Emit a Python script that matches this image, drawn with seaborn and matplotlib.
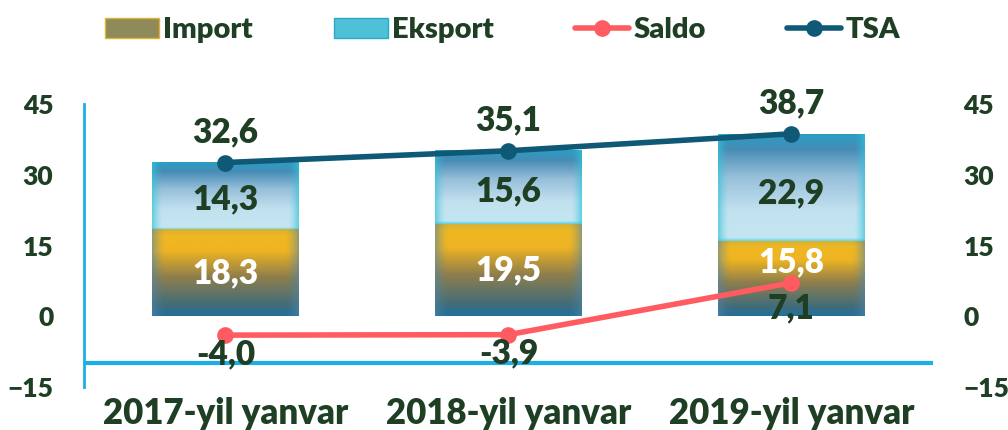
import numpy as np
import pandas as pd
import matplotlib
matplotlib.use("Agg")
import matplotlib.pyplot as plt
from matplotlib.colors import to_rgb
from matplotlib.patches import Patch
from matplotlib.lines import Line2D
import seaborn as sns

# data
periods = ["2017-yil yanvar", "2018-yil yanvar", "2019-yil yanvar"]
import_vals = [18.3, 19.5, 15.8]
export_vals = [14.3, 15.6, 22.9]
saldo_vals = [-4.0, -3.9, 7.1]
tsa_vals = [32.6, 35.1, 38.7]
y_ticks = [-15, 0, 15, 30, 45]

TEXT = "#1F3F25"
AXIS_BLUE = "#1AAFE6"
SALDO_C = "#FF5B60"
TSA_C = "#0F5876"
WEIGHT = "heavy"

sns.set_theme(style="white")
plt.rcParams["font.family"] = ["Lato", "DejaVu Sans"]
plt.rcParams["font.weight"] = WEIGHT

df = pd.DataFrame({"period": periods, "import": import_vals,
                   "export": export_vals, "saldo": saldo_vals, "tsa": tsa_vals})


def gradient(stops, edge_col, edge_w, edge_amt, n=200, m=120):
    """vertical gradient (t=0 bottom) with tinted side edges"""
    t = np.linspace(0, 1, n)[::-1]
    pos = [s[0] for s in stops]
    cols = np.array([to_rgb(s[1]) for s in stops])
    vert = np.stack([np.interp(t, pos, cols[:, k]) for k in range(3)], axis=1)
    x = np.linspace(0, 1, m)
    d = np.minimum(x, 1 - x)
    f = np.clip(1 - d / edge_w, 0, 1) ** 1.5 * edge_amt
    img = vert[:, None, :] * (1 - f[None, :, None]) + np.array(to_rgb(edge_col)) * f[None, :, None]
    return img


imp_img = gradient([(0.0, "#22709E"), (0.12, "#3F6C7A"), (0.45, "#8F7E4C"),
                    (0.75, "#EEB422"), (0.92, "#F0B722"), (1.0, "#D4B236")],
                   "#4F86A8", 0.09, 0.55)
exp_img = gradient([(0.0, "#55D2E2"), (0.04, "#C4E6F2"), (0.3, "#C2E1EF"),
                    (0.6, "#98C0DA"), (0.86, "#478CB6"), (1.0, "#2B9DC2")],
                   "#33C3DA", 0.07, 0.65)

fig = plt.figure(figsize=(10.08, 4.30), dpi=100)
ax = fig.add_axes([0.0833, 0.100, 0.8423, 0.658])

# stacked bars: total first, import on top of it
sns.barplot(data=df, x="period", y="tsa", ax=ax, color="none", width=0.516, saturation=1)
n_tot = len(ax.patches)
sns.barplot(data=df, x="period", y="import", ax=ax, color="none", width=0.516, saturation=1)
tot_patches = ax.patches[:n_tot]
imp_patches = ax.patches[n_tot:]
for tp, ip in zip(tot_patches, imp_patches):
    x0, w = ip.get_x(), ip.get_width()
    h_imp, h_tot = ip.get_height(), tp.get_height()
    ax.imshow(exp_img, extent=(x0, x0 + w, h_imp, h_tot), aspect="auto",
              interpolation="bilinear", zorder=2)
    ax.imshow(imp_img, extent=(x0, x0 + w, 0, h_imp), aspect="auto",
              interpolation="bilinear", zorder=2)
    tp.set_visible(False)
    ip.set_visible(False)

sns.lineplot(data=df, x="period", y="tsa", ax=ax, color=TSA_C, linewidth=4,
             marker="o", markersize=12, markeredgewidth=0, zorder=5, sort=False)
sns.lineplot(data=df, x="period", y="saldo", ax=ax, color=SALDO_C, linewidth=4,
             marker="o", markersize=12, markeredgewidth=0, zorder=5, sort=False)

fs_val = 24
for i in range(len(periods)):
    imp, exp_, tot, sal = import_vals[i], export_vals[i], tsa_vals[i], saldo_vals[i]
    ax.text(i, tot + 6.4, f"{tot:.1f}".replace(".", ","), ha="center", va="center",
            fontsize=fs_val, color=TEXT, fontweight=WEIGHT, zorder=6)
    ax.text(i, imp + exp_ * 0.45, f"{exp_:.1f}".replace(".", ","), ha="center", va="center",
            fontsize=fs_val, color=TEXT, fontweight=WEIGHT, zorder=6)
    imp_y = imp * 0.5 if i < 2 else imp * 0.73
    ax.text(i, imp_y, f"{imp:.1f}".replace(".", ","), ha="center", va="center",
            fontsize=fs_val, color="white", fontweight=WEIGHT, zorder=6)
    sal_off = 4.0 if i < 2 else 5.5
    ax.text(i, sal - sal_off, f"{sal:.1f}".replace(".", ","), ha="center", va="center",
            fontsize=fs_val, color=TEXT, fontweight=WEIGHT, zorder=6)

ax.set_ylim(-15, 45)
ax.set_xlim(-0.5, 2.5)
ax.set_yticks(y_ticks)
ax.set_xlabel("")
ax.set_ylabel("")
for s in ["top", "right", "bottom"]:
    ax.spines[s].set_visible(False)
ax.spines["left"].set_color(AXIS_BLUE)
ax.spines["left"].set_linewidth(2)
ax.axhline(-10, color=AXIS_BLUE, linewidth=3, zorder=1)
ax.tick_params(axis="y", length=0, pad=22, labelsize=19, labelcolor=TEXT)
ax.tick_params(axis="x", length=0, pad=7, labelsize=25, labelcolor=TEXT)
for lab in ax.get_xticklabels() + ax.get_yticklabels():
    lab.set_fontweight(WEIGHT)

ax2 = ax.twinx()
ax2.set_ylim(-15, 45)
ax2.set_yticks(y_ticks)
for s in ax2.spines.values():
    s.set_visible(False)
ax2.tick_params(axis="y", length=0, pad=22, labelsize=19, labelcolor=TEXT)
for lab in ax2.get_yticklabels():
    lab.set_fontweight(WEIGHT)
ax2.grid(False)

handles = [
    Patch(facecolor="#8E8A5A", edgecolor="#E0B234", label="Import"),
    Patch(facecolor="#4EC0D8", edgecolor="#2AA8C8", label="Eksport"),
    Line2D([0], [0], color=SALDO_C, linewidth=4, marker="o", markersize=11, label="Saldo"),
    Line2D([0], [0], color=TSA_C, linewidth=4, marker="o", markersize=11, label="TSA"),
]
leg = fig.legend(handles=handles, loc="upper center", bbox_to_anchor=(0.4985, 1.021), ncol=4,
                 frameon=False, fontsize=21, columnspacing=2.78, handlelength=1.85,
                 handletextpad=0.15)
for t in leg.get_texts():
    t.set_color(TEXT)
    t.set_fontweight(WEIGHT)

fig.savefig("out.png", dpi=100)
